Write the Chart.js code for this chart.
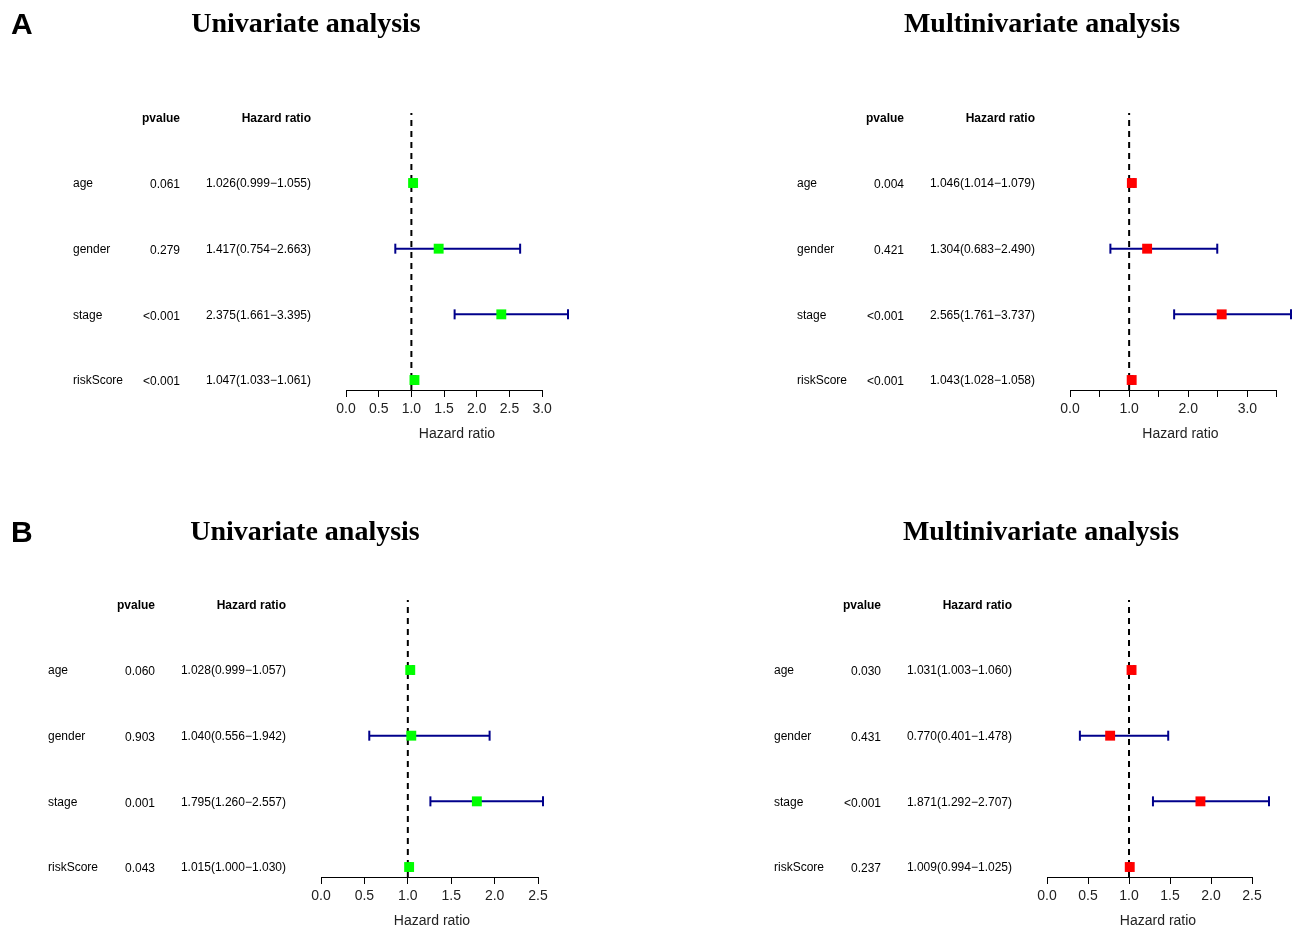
<!DOCTYPE html>
<html>
<head>
<meta charset="utf-8">
<script src="https://cdn.jsdelivr.net/npm/chart.js@4.4.0/dist/chart.umd.min.js"></script>
<style>
  body { margin: 0; background: #fff; }
  .panel { position: absolute; }
</style>
</head>
<body>
<div class="panel" style="left:0;top:0"><canvas id="uniA" width="649" height="463"></canvas></div>
<div class="panel" style="left:649px;top:0"><canvas id="multiA" width="649" height="463"></canvas></div>
<div class="panel" style="left:0;top:463px"><canvas id="uniB" width="649" height="464"></canvas></div>
<div class="panel" style="left:649px;top:463px"><canvas id="multiB" width="649" height="464"></canvas></div>
<script>
const variables = ['age', 'gender', 'stage', 'riskScore'];

// A - univariate
const uniA_hr = [1.026, 1.417, 2.375, 1.047];
const uniA_low = [0.999, 0.754, 1.661, 1.033];
const uniA_high = [1.055, 2.663, 3.395, 1.061];
const uniA_p = ['0.061', '0.279', '<0.001', '<0.001'];
// A - multivariate
const multiA_hr = [1.046, 1.304, 2.565, 1.043];
const multiA_low = [1.014, 0.683, 1.761, 1.028];
const multiA_high = [1.079, 2.490, 3.737, 1.058];
const multiA_p = ['0.004', '0.421', '<0.001', '<0.001'];
// B - univariate
const uniB_hr = [1.028, 1.040, 1.795, 1.015];
const uniB_low = [0.999, 0.556, 1.260, 1.000];
const uniB_high = [1.057, 1.942, 2.557, 1.030];
const uniB_p = ['0.060', '0.903', '0.001', '0.043'];
// B - multivariate
const multiB_hr = [1.031, 0.770, 1.871, 1.009];
const multiB_low = [1.003, 0.401, 1.292, 0.994];
const multiB_high = [1.060, 1.478, 2.707, 1.025];
const multiB_p = ['0.030', '0.431', '<0.001', '0.237'];

// x axis ticks and their labels
const ticksUniA = [0, 0.5, 1, 1.5, 2, 2.5, 3];
const labelsUniA = ['0.0', '0.5', '1.0', '1.5', '2.0', '2.5', '3.0'];
const ticksMultiA = [0, 0.5, 1, 1.5, 2, 2.5, 3, 3.5];
const labelsMultiA = ['0.0', '', '1.0', '', '2.0', '', '3.0', ''];
const ticksB = [0, 0.5, 1, 1.5, 2, 2.5];
const labelsB = ['0.0', '0.5', '1.0', '1.5', '2.0', '2.5'];

const REF = 1;
const Y_MIN = 0.848, Y_MAX = 5.066;
const SANS = '"Liberation Sans", Arial, sans-serif';
const SERIF = '"Liberation Serif", "Times New Roman", serif';

const tablePlugin = {
  id: 'table',
  beforeDatasetsDraw(chart, args, o) {
    // axis line only from first to last tick, like R's axis()
    const { ctx, chartArea, scales: { x } } = chart;
    const t = x.ticks;
    const yb = Math.round(chartArea.bottom) + 0.5;
    ctx.save();
    ctx.strokeStyle = '#000';
    ctx.lineWidth = 1;
    ctx.beginPath();
    ctx.moveTo(x.getPixelForValue(t[0].value), yb);
    ctx.lineTo(x.getPixelForValue(t[t.length - 1].value), yb);
    ctx.stroke();
    ctx.restore();
  },
  afterDraw(chart, args, o) {
    const { ctx, chartArea, scales: { x, y } } = chart;
    const left = chartArea.left;
    ctx.save();
    ctx.fillStyle = '#000';
    ctx.textBaseline = 'middle';
    // headers
    const yh = y.getPixelForValue(variables.length + 1) + 1;
    ctx.font = 'bold 12px ' + SANS;
    ctx.textAlign = 'right';
    ctx.fillText('pvalue', left - 166, yh);
    ctx.fillText('Hazard ratio', left - 35, yh);
    // rows
    ctx.font = '12px ' + SANS;
    variables.forEach((v, i) => {
      const yp = y.getPixelForValue(variables.length - i) + 1;
      ctx.textAlign = 'left';
      ctx.fillText(v, left - 273, yp);
      ctx.textAlign = 'right';
      ctx.fillText(o.p[i], left - 166, yp + 1);
      const s = o.hr[i].toFixed(3) + '(' + o.low[i].toFixed(3) + '\u2212' + o.high[i].toFixed(3) + ')';
      ctx.fillText(s, left - 35, yp);
    });
    // axis title centred on plot region (0 .. max upper CI)
    ctx.textAlign = 'center';
    ctx.font = '14px ' + SANS;
    ctx.fillStyle = '#222';
    const xc = x.getPixelForValue(Math.max(...o.high) / 2);
    ctx.fillText('Hazard ratio', xc, chartArea.bottom + 44);
    // panel title
    ctx.fillStyle = '#000';
    ctx.font = 'bold 28px ' + SERIF;
    ctx.fillText(o.title, o.titleX, o.titleY);
    if (o.letter) {
      ctx.textAlign = 'left';
      ctx.font = 'bold 30px ' + SANS;
      ctx.fillText(o.letter, 11, o.titleY + 1);
    }
    ctx.restore();
  }
};

function forest(id, hr, low, high, pv, ticks, labels, color, box, title) {
  const canvas = document.getElementById(id);
  const W = canvas.width, H = canvas.height;
  const AXIS_H = 40;
  const datasets = [];
  datasets.push({
    data: hr.map((v, i) => ({ x: v, y: variables.length - i })),
    pointStyle: 'rect',
    pointRadius: 7,
    pointBorderWidth: 0,
    backgroundColor: color,
    borderColor: color,
    order: 0,
    clip: false
  });
  datasets.push({
    data: [{ x: REF, y: Y_MIN }, { x: REF, y: Y_MAX }],
    showLine: true,
    borderColor: '#000',
    borderWidth: 2,
    borderDash: [6, 5],
    pointRadius: 0,
    order: 1
  });
  low.forEach((lo, i) => {
    datasets.push({
      data: [{ x: lo, y: variables.length - i }, { x: high[i], y: variables.length - i }],
      showLine: true,
      borderColor: '#00008B',
      borderWidth: 2,
      pointStyle: 'line',
      rotation: 90,
      pointRadius: 5,
      pointBorderWidth: 2,
      pointBorderColor: '#00008B',
      order: 2,
      clip: false
    });
  });
  new Chart(canvas, {
    type: 'scatter',
    data: { datasets },
    options: {
      responsive: false,
      animation: false,
      events: [],
      layout: {
        padding: { left: box.left, right: W - box.right, top: box.top, bottom: H - box.bottom - AXIS_H }
      },
      scales: {
        x: {
          type: 'linear',
          min: 0,
          max: Math.max(...high),
          afterBuildTicks: s => { s.ticks = ticks.map(v => ({ value: v })); },
          afterFit: s => { s.height = AXIS_H; },
          grid: { display: true, drawOnChartArea: false, drawTicks: true, tickLength: 7, color: '#000', lineWidth: 1 },
          border: { display: false },
          ticks: {
            autoSkip: false, maxRotation: 0, padding: 4, color: '#222',
            font: { size: 14, family: SANS },
            callback: (v, i) => labels[i]
          }
        },
        y: { type: 'linear', display: false, min: Y_MIN, max: Y_MAX }
      },
      plugins: {
        legend: { display: false },
        tooltip: { enabled: false },
        table: { hr, low, high, p: pv, title, titleX: box.titleX, titleY: box.titleY, letter: box.letter }
      }
    },
    plugins: [tablePlugin]
  });
}

// box.right = pixel where the largest upper CI sits (edge of the plot region)
forest('uniA', uniA_hr, uniA_low, uniA_high, uniA_p, ticksUniA, labelsUniA, '#00FF00',
  { left: 346, right: 568, top: 113, bottom: 390, titleX: 306, titleY: 25, letter: 'A' }, 'Univariate analysis');
forest('multiA', multiA_hr, multiA_low, multiA_high, multiA_p, ticksMultiA, labelsMultiA, '#FF0000',
  { left: 421, right: 643, top: 113, bottom: 390, titleX: 393, titleY: 25 }, 'Multinivariate analysis');
forest('uniB', uniB_hr, uniB_low, uniB_high, uniB_p, ticksB, labelsB, '#00FF00',
  { left: 321, right: 543, top: 137, bottom: 414, titleX: 305, titleY: 70, letter: 'B' }, 'Univariate analysis');
forest('multiB', multiB_hr, multiB_low, multiB_high, multiB_p, ticksB, labelsB, '#FF0000',
  { left: 398, right: 620, top: 137, bottom: 414, titleX: 392, titleY: 70 }, 'Multinivariate analysis');
</script>
</body>
</html>
